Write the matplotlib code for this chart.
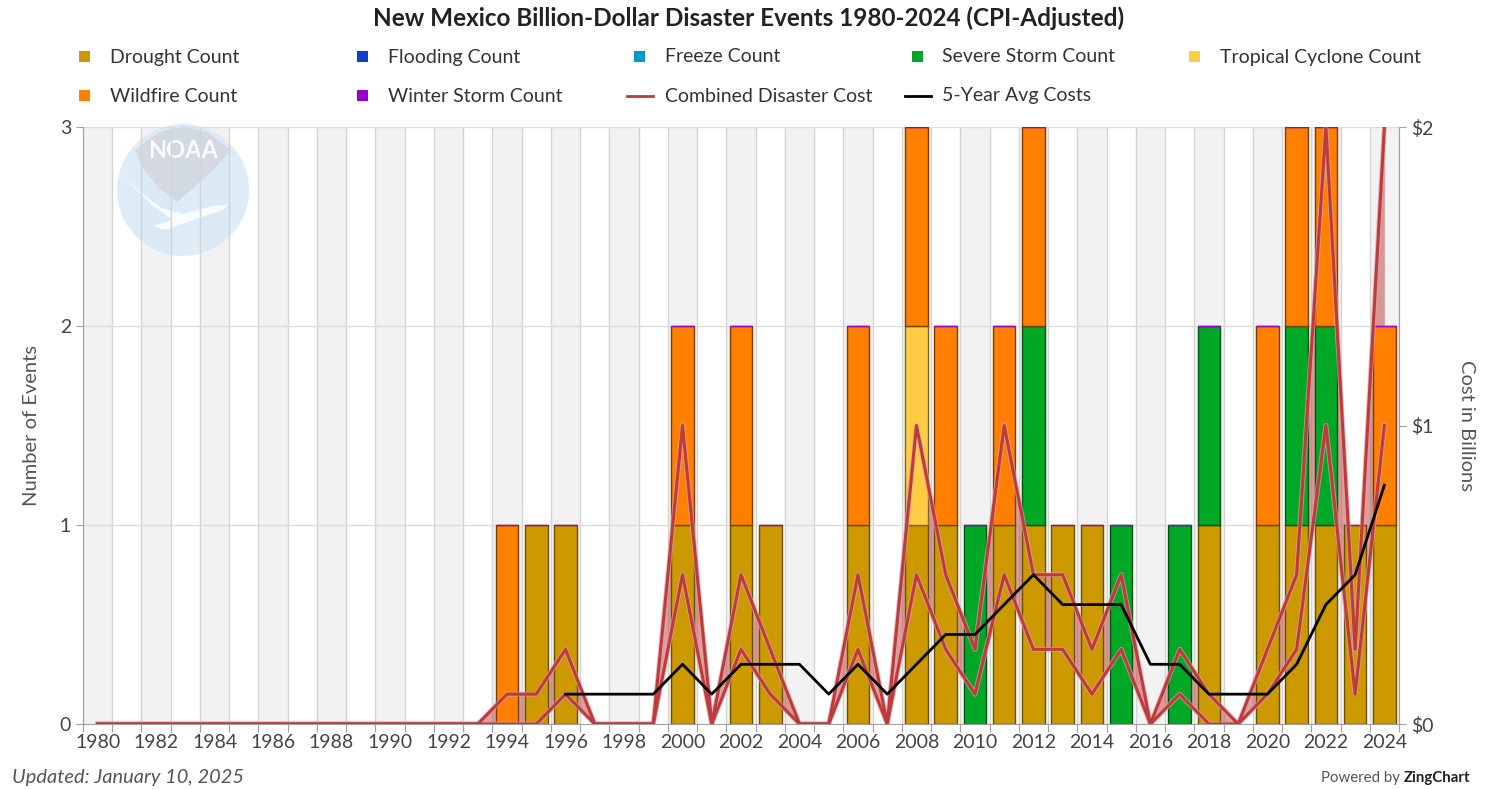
import matplotlib
matplotlib.use("Agg")
import matplotlib.pyplot as plt
import numpy as np
from matplotlib.patches import Rectangle, Circle, Polygon
from matplotlib.lines import Line2D

plt.rcParams['font.family'] = ['Lato', 'DejaVu Sans']

# data
years = list(range(1980, 2025))

drought = [0, 0, 0, 0, 0, 0, 0, 0, 0, 0,
           0, 0, 0, 0, 0, 1, 1, 0, 0, 0,
           1, 0, 1, 1, 0, 0, 1, 0, 1, 1,
           0, 1, 1, 1, 1, 0, 0, 0, 1, 0,
           1, 1, 1, 1, 1]
flooding = [0] * 45
freeze = [0] * 45
severe_storm = [0, 0, 0, 0, 0, 0, 0, 0, 0, 0,
                0, 0, 0, 0, 0, 0, 0, 0, 0, 0,
                0, 0, 0, 0, 0, 0, 0, 0, 0, 0,
                1, 0, 1, 0, 0, 1, 0, 1, 1, 0,
                0, 1, 1, 0, 0]
tropical_cyclone = [0, 0, 0, 0, 0, 0, 0, 0, 0, 0,
                    0, 0, 0, 0, 0, 0, 0, 0, 0, 0,
                    0, 0, 0, 0, 0, 0, 0, 0, 1, 0,
                    0, 0, 0, 0, 0, 0, 0, 0, 0, 0,
                    0, 0, 0, 0, 0]
wildfire = [0, 0, 0, 0, 0, 0, 0, 0, 0, 0,
            0, 0, 0, 0, 1, 0, 0, 0, 0, 0,
            1, 0, 1, 0, 0, 0, 1, 0, 1, 1,
            0, 1, 1, 0, 0, 0, 0, 0, 0, 0,
            1, 1, 1, 0, 1]
winter_storm = [0] * 45

# combined cost range, billions
cost_high = [0, 0, 0, 0, 0, 0, 0, 0, 0, 0,
             0, 0, 0, 0, 0.1, 0.1, 0.25, 0, 0, 0,
             1.0, 0, 0.5, 0.25, 0, 0, 0.5, 0, 1.0, 0.5,
             0.25, 1.0, 0.5, 0.5, 0.25, 0.5, 0, 0.25, 0.1, 0,
             0.25, 0.5, 2.0, 0.25, 2.0]
cost_low = [0, 0, 0, 0, 0, 0, 0, 0, 0, 0,
            0, 0, 0, 0, 0, 0, 0.1, 0, 0, 0,
            0.5, 0, 0.25, 0.1, 0, 0, 0.25, 0, 0.5, 0.25,
            0.1, 0.5, 0.25, 0.25, 0.1, 0.25, 0, 0.1, 0, 0,
            0.1, 0.25, 1.0, 0.1, 1.0]
avg5 = [np.nan] * 16 + [0.1, 0.1, 0.1, 0.1,
                        0.2, 0.1, 0.2, 0.2, 0.2, 0.1, 0.2, 0.1, 0.2, 0.3,
                        0.3, 0.4, 0.5, 0.4, 0.4, 0.4, 0.2, 0.2, 0.1, 0.1,
                        0.1, 0.2, 0.4, 0.5, 0.8]

series = [
    ("Drought Count", drought, "#cc9900", "#6b5000"),
    ("Flooding Count", flooding, "#0a3fcf", "#051f66"),
    ("Freeze Count", freeze, "#0099cc", "#004d66"),
    ("Severe Storm Count", severe_storm, "#00a826", "#005413"),
    ("Tropical Cyclone Count", tropical_cyclone, "#ffcc44", "#806622"),
    ("Wildfire Count", wildfire, "#ff8000", "#7a3d00"),
    ("Winter Storm Count", winter_storm, "#9900cc", "#9900cc"),
]

W, H = 1498, 789
fig = plt.figure(figsize=(W / 100, H / 100), dpi=100)
x0, x1, y0, y1 = 83, 1399, 127, 724
rect = [x0 / W, 1 - y1 / H, (x1 - x0) / W, (y1 - y0) / H]

def fig_xy(px, py):
    return (px / W, 1 - py / H)

x = np.arange(len(years))
total = np.sum([s[1] for s in series], axis=0)

# background bands on their own axes
bg = fig.add_axes(rect, zorder=0)
bg.set_xlim(-0.5, len(years) - 0.5)
bg.axis("off")
for i in x:
    if years[i] % 2 == 0:
        bg.axvspan(i - 0.5, i + 0.5, color="#f2f2f2", lw=0)

# noaa logo watermark
lc = (x0 + 100, 190)
lax = fig.add_axes([(lc[0] - 70) / W, 1 - (lc[1] + 70) / H, 140 / W, 140 / H], zorder=0.5)
lax.set_xlim(-70, 70)
lax.set_ylim(-70, 70)
lax.axis("off")
lax.add_patch(Circle((0, 0), 66, facecolor="#d7e9f6", edgecolor="none", alpha=0.85))
lax.add_patch(Polygon([(-48, 40), (-24, 58), (0, 64), (24, 58), (48, 40),
                       (30, 20), (10, 2), (-6, -12), (-24, 2), (-40, 22)],
                      closed=True, facecolor="#d3d8e2", edgecolor="none", alpha=0.95))
lax.add_patch(Polygon([(-62, 16), (-40, -4), (-22, -18), (0, -24), (30, -16),
                       (46, -14), (40, -20), (10, -30), (-18, -40), (-30, -36),
                       (-10, -30), (-30, -16), (-50, 4)],
                      closed=True, facecolor="white", edgecolor="none", alpha=0.85))
lax.text(0, 40, "NOAA", ha="center", va="center", color="white", fontsize=17,
         fontweight="bold", alpha=0.9)

ax = fig.add_axes(rect, zorder=1)
ax.patch.set_alpha(0)
ax.set_xlim(-0.5, len(years) - 0.5)
ax.set_ylim(0, 3)

# gridlines
for i in range(len(years) + 1):
    ax.axvline(i - 0.5, color="#d4d4d4", lw=1, zorder=1)
for v in [1, 2, 3]:
    ax.axhline(v, color="#dcdcdc", lw=1, zorder=1)

# cost axis
ax2 = ax.twinx()
ax2.set_ylim(0, 2)

# cost range fill sits behind the bars
ax.fill_between(x, cost_low, cost_high, transform=ax2.transData,
                color="#c0504d", alpha=0.55, lw=0, zorder=1.5)

# stacked bars; zero segments skipped except the winter storm cap
bottom = np.zeros(len(years))
for label, vals, color, edge in series:
    vals = np.array(vals, dtype=float)
    show = vals > 0
    if label == "Winter Storm Count":
        show = total > 0
    ax.bar(x[show], vals[show], width=0.77, bottom=bottom[show], color=color,
           edgecolor=edge, lw=1, zorder=2, label=label)
    bottom += vals

# axes styling
ax.spines["top"].set_visible(False)
for s in ["left", "bottom", "right"]:
    ax.spines[s].set_color("#a0a0a0")
ax.set_yticks([0, 1, 2, 3])
ax.tick_params(axis="y", colors="#a0a0a0", labelcolor="#444444", labelsize=14, length=5)
ax.set_xticks(np.arange(len(years) + 1) - 0.5)
ax.set_xticklabels([])
ax.tick_params(axis="x", which="major", colors="#a0a0a0", length=6)
ax.set_xticks(x[::2], minor=True)
ax.set_xticklabels([str(y) for y in years[::2]], minor=True)
ax.tick_params(axis="x", which="minor", length=0, labelsize=14, labelcolor="#444444", pad=7)
ax.set_ylabel("Number of Events", fontsize=14.5, color="#555555", labelpad=14)

ax2.set_yticks([0, 1, 2])
ax2.set_yticklabels(["$0", "$1", "$2"])
ax2.tick_params(axis="y", colors="#a0a0a0", labelcolor="#444444", labelsize=14, length=5)
for s in ["top", "left", "bottom"]:
    ax2.spines[s].set_visible(False)
ax2.spines["right"].set_color("#a0a0a0")
ax2.set_ylabel("Cost in Billions", fontsize=14.5, color="#555555", rotation=270, labelpad=30)

for vals in [cost_high, cost_low]:
    ax2.plot(x, vals, color="#d8a4a4", lw=3.6, alpha=0.7, zorder=4)
    ax2.plot(x, vals, color="#c0393b", lw=2.2, zorder=5)
ax2.plot(x, avg5, color="black", lw=2, zorder=6)

# title
fig.text(0.5, 1 - 18 / H, "New Mexico Billion-Dollar Disaster Events 1980-2024 (CPI-Adjusted)",
         ha="center", va="center", fontsize=17.5, fontweight="bold", color="#222222")

# legend, drawn by hand to keep even columns
entries = [(lab, "box", col) for lab, _, col, _ in series]
entries += [("Combined Disaster Cost", "line", "#c0393b"), ("5-Year Avg Costs", "line", "black")]
for i, (lab, kind, col) in enumerate(entries):
    cx = 85 + (i % 5) * 277.5
    cy = 57 + (i // 5) * 39
    if kind == "box":
        fig.patches.append(Rectangle(fig_xy(cx - 6, cy + 5), 11 / W, 11 / H,
                                     transform=fig.transFigure, facecolor=col,
                                     edgecolor="none", figure=fig))
    else:
        fig.add_artist(Line2D([(cx - 13) / W, (cx + 13) / W], [1 - cy / H, 1 - cy / H],
                              transform=fig.transFigure, color=col, lw=2))
    fig.text((cx + 25) / W, 1 - cy / H, lab, ha="left", va="center",
             fontsize=14, color="#333333")

# footer
fig.text(12 / W, 1 - 777 / H, "Updated: January 10, 2025", ha="left", va="center",
         fontsize=14.4, style="italic", color="#555555")
fig.text(1404 / W, 1 - 778 / H, "Powered by ", ha="right", va="center",
         fontsize=10.8, color="#555555")
fig.text(1404 / W, 1 - 778 / H, "ZingChart", ha="left", va="center",
         fontsize=10.8, color="#222222", fontweight="bold")

fig.savefig("out.png", dpi=100)
